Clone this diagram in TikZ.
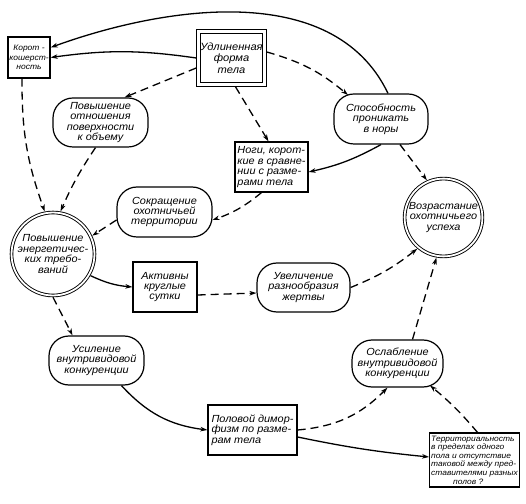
\documentclass[tikz,border=0pt]{standalone}
\usepackage{fontspec}
\setmainfont{Liberation Sans}
\newfontfamily\widefont[FakeStretch=1.08]{Liberation Sans}
\newfontfamily\labfont[FakeStretch=1.06]{Liberation Sans}
\usetikzlibrary{arrows.meta,calc}

\begin{document}
\begin{tikzpicture}[
  x=1pt, y=1pt,
  every node/.style={font=\labfont\itshape\fontsize{10.3}{10.4}\selectfont, align=center, inner sep=1pt},
  boxn/.style={draw, rectangle, line width=1.2pt},
  pill/.style={draw, rectangle, rounded corners=20pt, line width=1.2pt},
  dboxn/.style={draw, rectangle, double, double distance=2.5pt, line width=1pt, outer sep=2.3pt},
  dcirc/.style={draw, circle, double, double distance=1.8pt, line width=0.9pt, outer sep=1.8pt},
  sarr/.style={-{Stealth[length=7pt,width=4.5pt,inset=2pt]}, line width=1.3pt},
  darr/.style={sarr, dash pattern=on 8pt off 5pt},
]
\useasboundingbox (0,0) rectangle (526,503);

\node[boxn, minimum width=42pt, minimum height=41pt, font=\labfont\itshape\fontsize{8}{9.5}\selectfont] (kor) at (29,445.5) {Корот -\\кошерст-\\ность};
\node[dboxn, minimum width=66pt, minimum height=53pt, font=\labfont\itshape\fontsize{10.5}{11.5}\selectfont] (ud) at (231.5,445) {Удлиненная\\форма\\тела};
\node[pill, minimum width=95pt, minimum height=49pt] (pov) at (100.5,380.5) {Повышение\\отношения\\поверхности\\к объему};
\node[pill, minimum width=94pt, minimum height=50pt] (spos) at (381,384) {Способность\\проникать\\в норы};
\node[boxn, minimum width=73pt, minimum height=50pt, align=left] (nogi) at (271.5,336) {Ноги, корот-\\кие в сравне-\\нии с разме-\\рами тела};
\node[pill, minimum width=95pt, minimum height=50pt] (sokr) at (164.5,291) {Сокращение\\охотничьей\\территории};
\node[dcirc, minimum size=74pt] (vozr) at (443.5,285.5) {Возрастание\\охотничьего\\успеха};
\node[dcirc, minimum size=72pt] (energ) at (53,249) {Повышение\\энергетичес-\\ких требо-\\ваний};
\node[boxn, minimum width=64pt, minimum height=50pt] (akt) at (165,216) {Активны\\круглые\\сутки};
\node[pill, minimum width=93pt, minimum height=49pt] (uvel) at (303.5,215.5) {Увеличение\\разнообразия\\жертвы};
\node[pill, minimum width=95pt, minimum height=49pt] (usil) at (96.5,142.5) {Усиление\\внутривидовой\\конкуренции};
\node[boxn, minimum width=89pt, minimum height=50pt, align=left] (pol) at (252.5,73) {Половой димор-\\физм по разме-\\рам тела};
\node[pill, minimum width=91pt, minimum height=47pt] (osl) at (397.5,139.5) {Ослабление\\внутривидовой\\конкуренции};
\node[boxn, minimum width=89pt, minimum height=54pt, align=left, inner sep=1.5pt, font=\widefont\itshape\fontsize{7.8}{8.6}\selectfont] (terr) at (474.5,43) {Территориальность\\в пределах одного\\пола и отсутствие\\таковой между пред-\\ставителями разных\\\hspace*{22pt}полов ?};

% solid connectors
\draw[sarr] (ud.west) to[bend right=8] (kor.east);
\draw[sarr] ([xshift=7pt]spos.north) .. controls +(-55,115) and +(110,40) .. ([yshift=10pt]kor.east);
\draw[sarr] (spos.south) to[bend left=8] ([yshift=-5pt]nogi.east);
\draw[sarr] (energ.-30) to[bend right=10] (akt.west);
\draw[sarr] ([xshift=25pt]usil.south) to[bend right=20] (pol.west);
\draw[sarr] ([yshift=-7pt]pol.east) to[bend right=3] ([yshift=3pt]terr.west);

% dashed connectors
\draw[darr] ([yshift=-10pt]ud.west) -- ([xshift=24pt]pov.north);
\draw[darr] ([xshift=4pt]ud.south) -- ([xshift=-3pt]nogi.north);
\draw[darr] ([yshift=6pt]ud.east) to[bend left=12] ($(spos.center)+(-33,24)$);
\draw[darr] ([xshift=19pt]spos.south) -- (vozr.114);
\draw[darr] ([xshift=-10pt]nogi.south) to[bend left=10] ($(sokr.center)+(48,-8)$);
\draw[darr] ([xshift=-7pt]kor.south) to[bend right=10] (energ.101);
\draw[darr] ([xshift=-5pt]pov.south) to[bend right=5] (energ.80);
\draw[darr] ($(sokr.center)+(-48,-8)$) -- (energ.25);
\draw[darr] ([yshift=-8pt]akt.east) -- ($(uvel.center)+(-47,-5.5)$);
\draw[darr] (uvel.east) to[bend right=8] (vozr.230);
\draw[darr] (energ.south) -- ([xshift=-24pt]usil.north);
\draw[darr] (pol.east) to[bend right=20] ([xshift=-10pt]osl.south);
\draw[darr] ([xshift=3pt]terr.north) to[bend right=5] ($(osl.center)+(32.5,-22)$);
\draw[darr] ([xshift=15pt]osl.north) -- (vozr.-100);
\end{tikzpicture}
\end{document}
